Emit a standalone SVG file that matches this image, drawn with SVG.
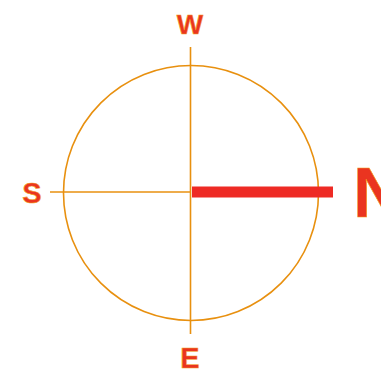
<svg xmlns="http://www.w3.org/2000/svg" width="381" height="374" viewBox="0 0 381 374">
<style>
.ln{stroke:#E8900F;stroke-width:1.6;fill:none}
.lbl{font-family:"Liberation Sans",Arial,sans-serif;font-weight:bold;fill:#EA3420;stroke:#F39C22;stroke-width:0.6;text-anchor:middle}
.sm{font-size:29px}
.big{font-size:70px;text-anchor:start}
</style>
<rect width="381" height="374" fill="#fff"/>
<g id="connectors">
<circle class="ln" cx="191" cy="193" r="127.5"/>
<line class="ln" x1="190.5" y1="47" x2="190.5" y2="334"/>
<line class="ln" x1="50" y1="192" x2="191" y2="192"/>
<rect x="192" y="186.5" width="141" height="11" fill="#EE2A24"/>
</g>
<g id="W"><text class="lbl sm" x="190" y="34" style="font-size:28px">W</text></g>
<g id="S"><text class="lbl sm" x="32" y="203">S</text></g>
<g id="E"><text class="lbl sm" x="190" y="368">E</text></g>
<g id="N"><text class="lbl big" x="353" y="217">N</text></g>
</svg>
